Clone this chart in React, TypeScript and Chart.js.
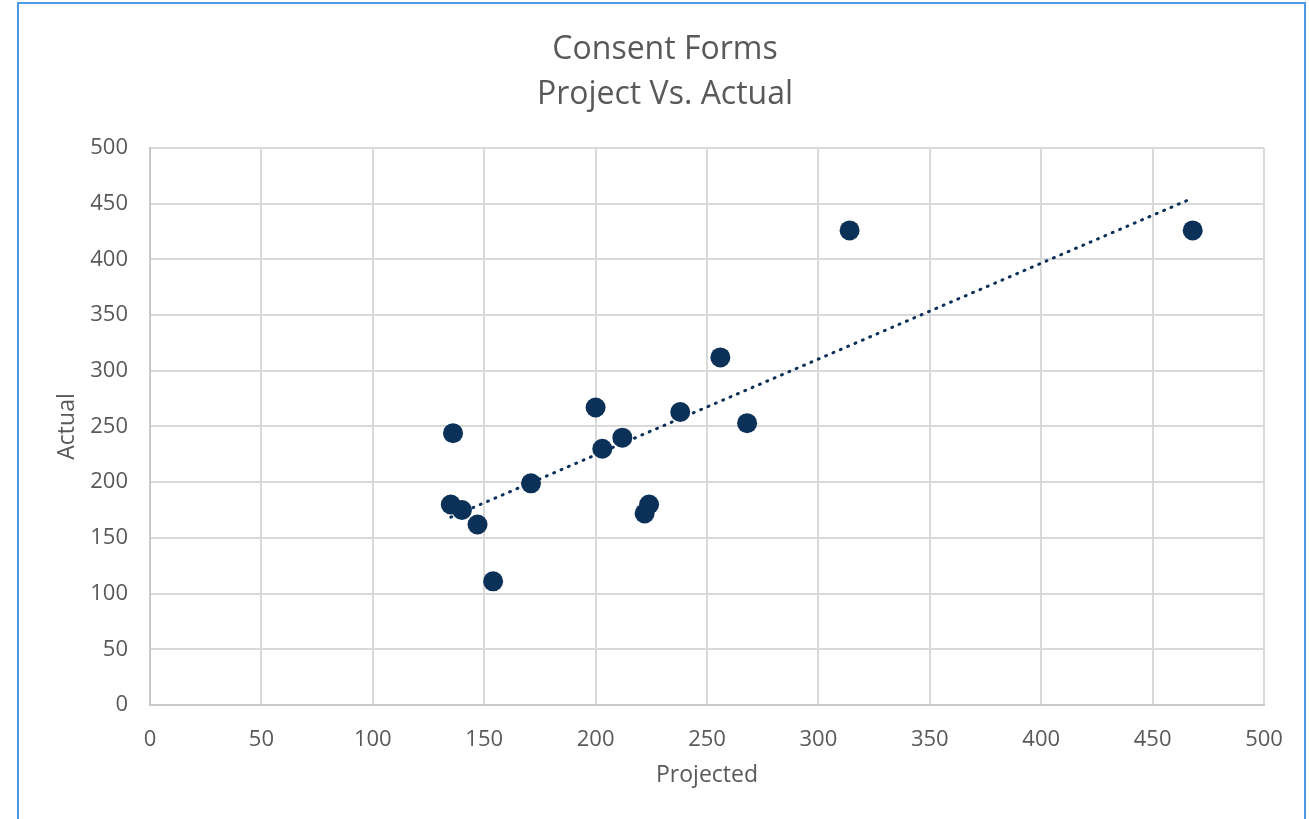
import React, { useEffect, useRef } from "react";
import { Chart, registerables } from "chart.js";

Chart.register(...registerables);

const titleLines = ["Consent Forms", "Project Vs. Actual"];
const xAxisTitle = "Projected";
const yAxisTitle = "Actual";
const projected = [135, 136, 140, 147, 154, 171, 200, 203, 212, 222, 224, 238, 256, 268, 314, 468];
const actual = [180, 244, 175, 162, 111, 199, 267, 230, 240, 172, 180, 263, 312, 253, 426, 426];
const axisMin = 0;
const axisMax = 500;
const axisStep = 50;

const navy = "#0b3159";
const grey = "#595959";
const FONT = "'Open Sans', 'Noto Sans', sans-serif";

function trend(xs: number[], ys: number[]) {
  const n = xs.length;
  const mx = xs.reduce((a, b) => a + b, 0) / n;
  const my = ys.reduce((a, b) => a + b, 0) / n;
  let sxy = 0;
  let sxx = 0;
  for (let i = 0; i < n; i++) {
    sxy += (xs[i] - mx) * (ys[i] - my);
    sxx += (xs[i] - mx) * (xs[i] - mx);
  }
  const m = sxy / sxx;
  const b = my - m * mx;
  const x0 = Math.min(...xs);
  const x1 = Math.max(...xs);
  return [
    { x: x0, y: m * x0 + b },
    { x: x1, y: m * x1 + b },
  ];
}

export default function App() {
  const ref = useRef<HTMLCanvasElement>(null);
  useEffect(() => {
    if (!ref.current) return;
    const points = projected.map((x, i) => ({ x, y: actual[i] }));
    const chart = new Chart(ref.current, {
      type: "scatter",
      data: {
        datasets: [
          {
            label: "Actual",
            data: points,
            backgroundColor: navy,
            borderColor: navy,
            pointRadius: 10,
            pointHoverRadius: 10,
            borderWidth: 0,
            order: 1,
          },
          {
            label: "Trend",
            type: "line",
            data: trend(projected, actual),
            borderColor: navy,
            borderWidth: 3,
            borderDash: [1, 7],
            borderCapStyle: "round",
            pointRadius: 0,
            fill: false,
            order: 2,
          } as any,
        ],
      },
      options: {
        animation: false,
        responsive: false,
        layout: { padding: { left: 48, right: 43, top: 0, bottom: 0 } },
        plugins: {
          legend: { display: false },
          tooltip: { enabled: false },
          title: {
            display: true,
            text: titleLines,
            color: grey,
            font: { family: FONT, size: 32, weight: "normal", lineHeight: 1.406 },
            padding: { top: 24.5, bottom: 30.5 },
          },
        },
        scales: {
          x: {
            type: "linear",
            min: axisMin,
            max: axisMax,
            ticks: {
              stepSize: axisStep,
              color: grey,
              font: { family: FONT, size: 22 },
              padding: 22,
            },
            grid: { color: "#d9d9d9", lineWidth: 2, drawTicks: false },
            border: { color: "#c8c8c8", width: 2 },
            title: {
              display: true,
              text: xAxisTitle,
              color: grey,
              font: { family: FONT, size: 23 },
              padding: { top: 0, bottom: 30 },
            },
            afterFit: (s: any) => {
              s.height = 114;
            },
          },
          y: {
            type: "linear",
            min: axisMin,
            max: axisMax,
            ticks: {
              stepSize: axisStep,
              color: grey,
              font: { family: FONT, size: 22 },
              padding: 22,
            },
            grid: { color: "#d9d9d9", lineWidth: 2, drawTicks: false },
            border: { color: "#c8c8c8", width: 2 },
            title: {
              display: true,
              text: yAxisTitle,
              color: grey,
              font: { family: FONT, size: 23 },
              padding: { top: -12, bottom: 0 },
            },
            afterFit: (s: any) => {
              s.width = 84;
            },
          },
        },
      },
    });
    return () => chart.destroy();
  }, []);

  return (
    <div style={{ position: "fixed", left: 0, top: 0, width: 1309, height: 819, background: "#fff", overflow: "hidden" }}>
      <div
        style={{
          position: "absolute",
          left: 17,
          top: 2,
          width: 1289,
          height: 830,
          border: "2px solid #4d9be8",
          boxSizing: "border-box",
        }}
      />
      <canvas
        ref={ref}
        width={1289}
        height={816}
        style={{ position: "absolute", left: 18, top: 3, width: 1289, height: 816 }}
      />
    </div>
  );
}
